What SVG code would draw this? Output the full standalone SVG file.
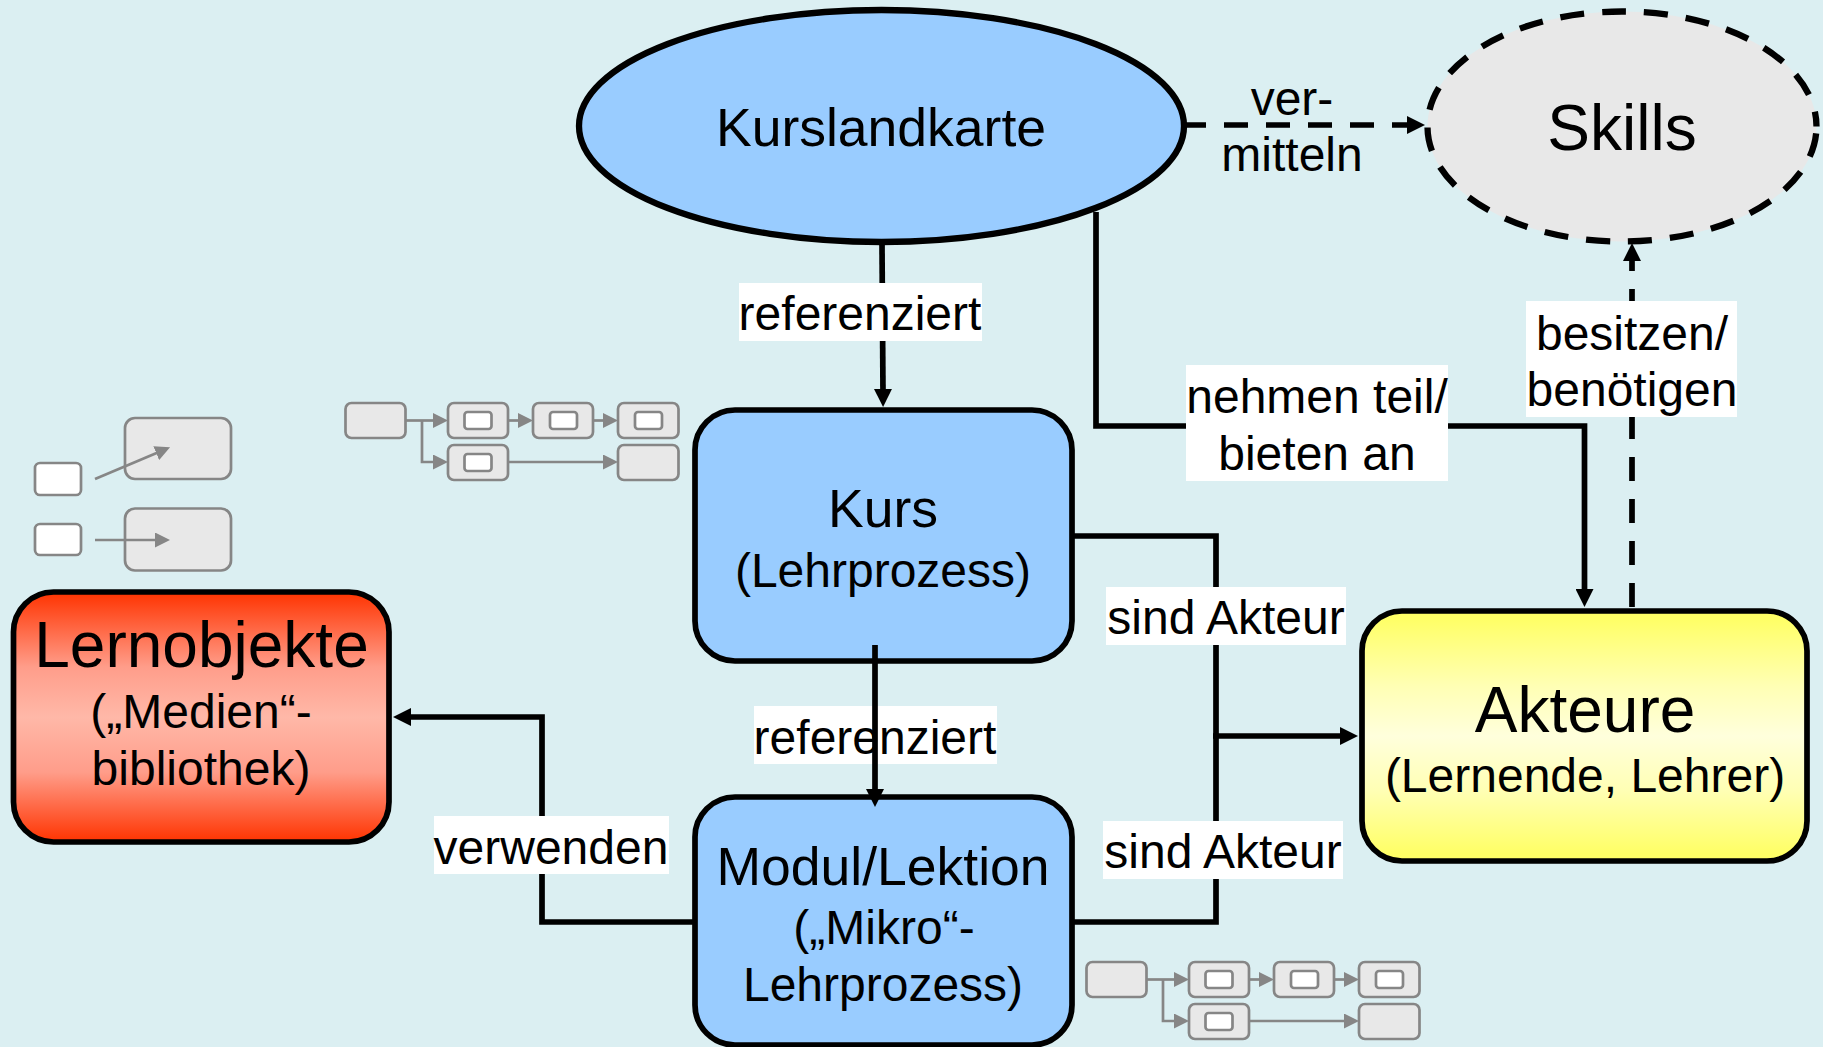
<svg xmlns="http://www.w3.org/2000/svg" width="1823" height="1047" viewBox="0 0 1823 1047">
<style>
text{font-family:"Liberation Sans",Arial,sans-serif;fill:#000;text-anchor:middle}
.f48{font-size:48px}.f53{font-size:53.5px}.f64{font-size:64px}
.node{stroke:#000;stroke-width:5.7}
.blue{fill:#99ccff}
.con{fill:none;stroke:#000;stroke-width:5.7}
.dash{stroke-dasharray:24 18}
.arr{marker-end:url(#ah)}
.lab{fill:#fff;stroke:none}
.g{fill:#e8e8e8;stroke:#868686;stroke-width:2.7}
.w{fill:#fff;stroke:#868686;stroke-width:2.7}
.gl{fill:none;stroke:#868686;stroke-width:2.7;marker-end:url(#gh)}
</style>
<defs>
<marker id="ah" markerUnits="userSpaceOnUse" markerWidth="18" markerHeight="18" refX="4" refY="9" orient="auto"><path d="M0,0L18,9L0,18z" fill="#000"/></marker>
<marker id="gh" markerUnits="userSpaceOnUse" markerWidth="15" markerHeight="15" refX="3" refY="7.5" orient="auto"><path d="M0,0L15,7.5L0,15z" fill="#868686"/></marker>
<linearGradient id="red" x1="0" y1="0" x2="0" y2="1"><stop offset="0" stop-color="#ff3300"/><stop offset=".3" stop-color="#ff9d8a"/><stop offset=".5" stop-color="#ffb8a8"/><stop offset=".72" stop-color="#ff9d8a"/><stop offset="1" stop-color="#ff3300"/></linearGradient>
<linearGradient id="yel" x1="0" y1="0" x2="0" y2="1"><stop offset=".03" stop-color="#ffff66"/><stop offset=".3" stop-color="#ffffb4"/><stop offset=".5" stop-color="#ffffdc"/><stop offset=".72" stop-color="#ffffb4"/><stop offset=".97" stop-color="#ffff66"/></linearGradient>
</defs>
<rect width="1823" height="1047" fill="#dbeff2"/>
<g id="node-kurslandkarte"><ellipse class="blue" stroke="#000" stroke-width="6.300" cx="881.500" cy="126" rx="302.500" ry="116"/><text class="f53" x="881" y="146">Kurslandkarte</text></g>
<g id="node-skills"><ellipse cx="1622" cy="126.5" rx="194.5" ry="115" fill="#e8e8e8" stroke="#000" stroke-width="6.300" stroke-dasharray="24 18" stroke-dashoffset="35"/><text class="f64" x="1622" y="150">Skills</text></g>
<g id="node-kurs"><rect class="node blue" x="695" y="410" width="377" height="251" rx="40"/><text class="f53" x="883" y="527">Kurs</text><text class="f48" x="883" y="587">(Lehrprozess)</text></g>
<g id="node-modul"><rect class="node blue" x="695" y="797" width="377" height="248" rx="40"/><text class="f53" x="883" y="885">Modul/Lektion</text><text class="f48" x="884" y="944">(„Mikro“-</text><text class="f48" x="883" y="1001">Lehrprozess)</text></g>
<g id="node-lernobjekte"><rect class="node" x="13.500" y="592" width="375.500" height="250" rx="40" fill="url(#red)"/><text class="f64" x="201.500" y="667">Lernobjekte</text><text class="f48" x="201" y="728">(„Medien“-</text><text class="f48" x="201" y="785">bibliothek)</text></g>
<g id="node-akteure"><rect class="node" x="1362" y="611" width="445" height="250" rx="40" fill="url(#yel)"/><text class="f64" x="1585" y="732">Akteure</text><text class="f48" x="1585" y="792">(Lernende, Lehrer)</text></g>
<g id="legend-1">
<rect class="w" x="35" y="463" width="46" height="32" rx="5"/><rect class="g" x="125" y="418" width="106" height="61" rx="10"/>
<path class="gl" d="M95,479L159,452"/>
<rect class="w" x="35" y="524" width="46" height="31" rx="5"/><rect class="g" x="125" y="508.500" width="106" height="62" rx="10"/>
<path class="gl" d="M95,540H158"/>
</g>
<g id="legend-2">
<rect class="g" x="345.500" y="403" width="60" height="35" rx="6"/>
<rect class="g" x="448" y="403" width="60" height="35" rx="6"/><rect class="w" x="464.500" y="412" width="27" height="17" rx="3"/>
<rect class="g" x="533" y="403" width="60" height="35" rx="6"/><rect class="w" x="550" y="412" width="27" height="17" rx="3"/>
<rect class="g" x="618" y="403" width="60.500" height="35" rx="6"/><rect class="w" x="635" y="412" width="27" height="17" rx="3"/>
<rect class="g" x="448" y="445" width="60" height="35" rx="6"/><rect class="w" x="464.500" y="454" width="27" height="17" rx="3"/>
<rect class="g" x="618" y="445" width="60.500" height="35" rx="6"/>
<path class="gl" d="M406,420.500H436"/><path class="gl" d="M422,420.500V462H436"/><path class="gl" d="M508.500,420.500H521"/><path class="gl" d="M593.500,420.500H606"/><path class="gl" d="M508.500,462H606"/>
</g>
<g id="legend-3" transform="translate(741 559)">
<rect class="g" x="345.500" y="403" width="60" height="35" rx="6"/>
<rect class="g" x="448" y="403" width="60" height="35" rx="6"/><rect class="w" x="464.500" y="412" width="27" height="17" rx="3"/>
<rect class="g" x="533" y="403" width="60" height="35" rx="6"/><rect class="w" x="550" y="412" width="27" height="17" rx="3"/>
<rect class="g" x="618" y="403" width="60.500" height="35" rx="6"/><rect class="w" x="635" y="412" width="27" height="17" rx="3"/>
<rect class="g" x="448" y="445" width="60" height="35" rx="6"/><rect class="w" x="464.500" y="454" width="27" height="17" rx="3"/>
<rect class="g" x="618" y="445" width="60.500" height="35" rx="6"/>
<path class="gl" d="M406,420.500H436"/><path class="gl" d="M422,420.500V462H436"/><path class="gl" d="M508.500,420.500H521"/><path class="gl" d="M593.500,420.500H606"/><path class="gl" d="M508.500,462H606"/>
</g>
<g id="connectors">
<path class="con arr" d="M882,244L883,393"/>
<path class="con arr" d="M1096,212V426H1584.500V593"/>
<path class="con" d="M1072,536H1216V922H1072"/>
<path class="con arr" d="M1213,736H1344"/>
<path class="con arr" d="M695,922H542V717H407"/>
<path class="con dash arr" d="M1182,125H1411"/>
<path class="con dash arr" d="M1632,607V257"/>
<rect class="lab" x="739" y="283" width="243" height="58"/><text class="f48" x="860" y="330">referenziert</text>
<rect class="lab" x="754" y="706" width="243" height="58"/><text class="f48" x="875" y="754">referenziert</text>
<path class="con arr" d="M875,645V793"/>
<rect class="lab" x="1186" y="365" width="262" height="116"/><text class="f48" x="1317" y="413">nehmen teil/</text><text class="f48" x="1317" y="470">bieten an</text>
<rect class="lab" x="1526" y="301" width="211" height="116"/><text class="f48" x="1632" y="350">besitzen/</text><text class="f48" x="1632" y="406">benötigen</text>
<rect class="lab" x="1106" y="587" width="240" height="58"/><text class="f48" x="1226" y="634">sind Akteur</text>
<rect class="lab" x="1103" y="821" width="240" height="58"/><text class="f48" x="1223" y="868">sind Akteur</text>
<rect class="lab" x="434" y="816" width="235" height="58"/><text class="f48" x="551" y="864">verwenden</text>
<text class="f48" x="1292" y="115">ver-</text><text class="f48" x="1292" y="171">mitteln</text>
</g>
</svg>
